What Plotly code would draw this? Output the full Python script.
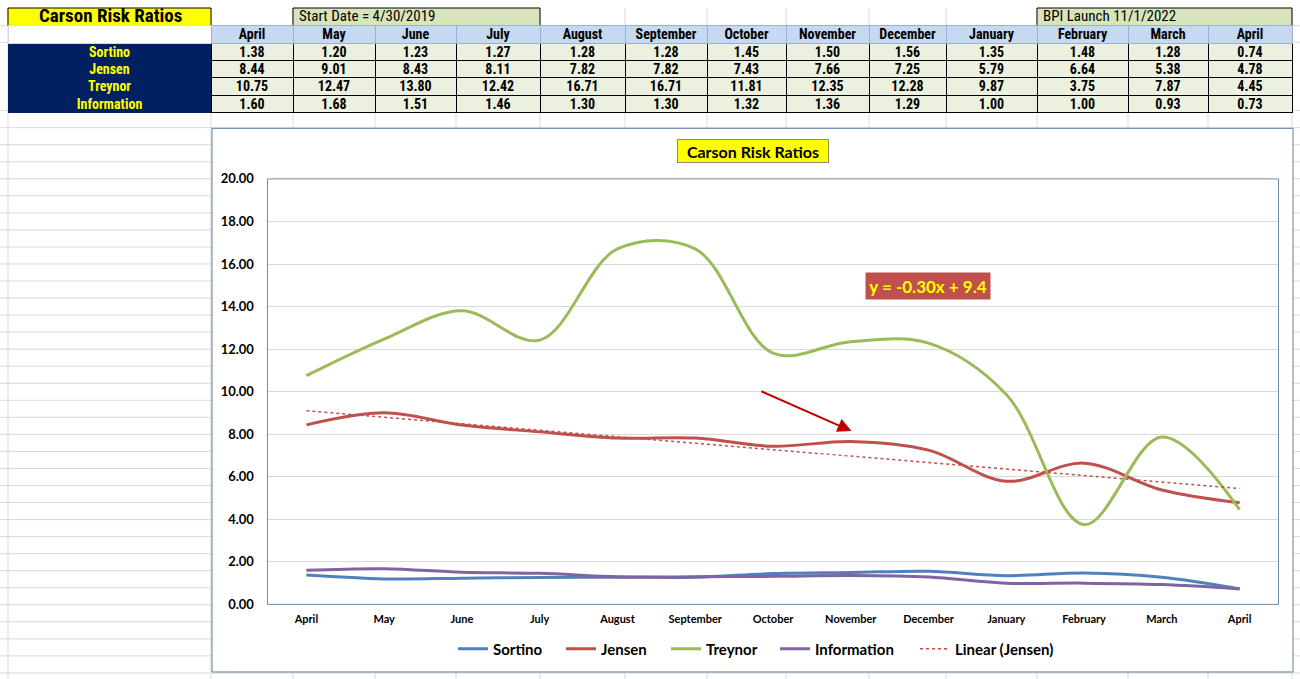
import numpy as np
import plotly.graph_objects as go

# ---------------- data ----------------
months = ["April", "May", "June", "July", "August", "September", "October",
          "November", "December", "January", "February", "March", "April"]
series_names = ["Sortino", "Jensen", "Treynor", "Information"]
sortino = [1.38, 1.20, 1.23, 1.27, 1.28, 1.28, 1.45, 1.50, 1.56, 1.35, 1.48, 1.28, 0.74]
jensen = [8.44, 9.01, 8.43, 8.11, 7.82, 7.82, 7.43, 7.66, 7.25, 5.79, 6.64, 5.38, 4.78]
treynor = [10.75, 12.47, 13.80, 12.42, 16.71, 16.71, 11.81, 12.35, 12.28, 9.87, 3.75, 7.87, 4.45]
information = [1.60, 1.68, 1.51, 1.46, 1.30, 1.30, 1.32, 1.36, 1.29, 1.00, 1.00, 0.93, 0.73]
sheet_title = "Carson Risk Ratios"
start_note = "Start Date = 4/30/2019"
bpi_note = "BPI Launch 11/1/2022"
chart_title = "Carson Risk Ratios"
equation_text = "y = -0.30x + 9.4"
trend_name = "Linear (Jensen)"

# ---------------- helpers (screen pixel -> paper) ----------------
W = 1300
S = 679.0 / 696.0          # vertical screen scale observed in the capture
OFF = 8                    # page top offset
H = 688

def px(x):
    return x / W

def fy(Y):
    return Y / S - OFF

def py(Y):
    return 1 - max(fy(Y), 0) / H

def vh(h):
    return h / S

NARROW = "Liberation Sans Narrow, Arial Narrow, Roboto Condensed, Liberation Sans, sans-serif"
CAL = "Lato, Open Sans, sans-serif"
colors = ["#4F81BD", "#C0504D", "#9BBB59", "#8064A2"]
all_series = [sortino, jensen, treynor, information]
xidx = list(range(len(months)))

fig = go.Figure()

# ---------------- table (cells + text layer) ----------------
col_widths = [203, 82, 82, 81, 84, 85, 82, 79, 83, 77, 91, 91, 80, 84]
ncol = len(col_widths)
cell_cols = [series_names] + [[f"{s[i]:.2f}" for s in all_series] for i in xidx]
blank_cols = [[""] * len(series_names) for _ in range(ncol)]
TOP = 25.5
SHIFT = 5
ROWH = vh(16.9)
fig.add_trace(go.Table(
    domain=dict(x=[px(8), px(1292)], y=[py(126), py(TOP)]),
    columnwidth=col_widths,
    header=dict(values=[""] * ncol, height=ROWH,
                fill=dict(color=["white"] + ["#C5D9F1"] * 13),
                line=dict(color=["#D9D9D9"] + ["#9DB1CF"] * 13, width=1)),
    cells=dict(values=blank_cols, height=ROWH,
               fill=dict(color=["#002060"] + ["#EBF1DE"] * 13),
               line=dict(color=["#002060"] + ["#000000"] * 13, width=1)),
))
fig.add_trace(go.Table(
    domain=dict(x=[px(8), px(1292)], y=[py(126), py(TOP - SHIFT)]),
    columnwidth=col_widths,
    header=dict(values=[""] + months, height=ROWH,
                fill=dict(color="rgba(0,0,0,0)"), line=dict(color="rgba(0,0,0,0)", width=0),
                font=dict(family=NARROW, size=14, color="black", weight="bold"),
                align="center"),
    cells=dict(values=cell_cols, height=ROWH,
               fill=dict(color="rgba(0,0,0,0)"), line=dict(color="rgba(0,0,0,0)", width=0),
               font=dict(family=NARROW, size=14, color=["#FFFF00"] + ["#000000"] * 13, weight="bold"),
               align="center"),
))

# ---------------- chart traces ----------------
legend_widths = [63, 60, 64, 95]
for name, vals, c, lw in zip(series_names, all_series, colors, legend_widths):
    fig.add_trace(go.Scatter(x=xidx, y=vals, name=name, mode="lines", legendwidth=lw,
                             line=dict(color=c, width=3, shape="spline", smoothing=1)))

slope, intercept = np.polyfit(np.arange(1, len(jensen) + 1), jensen, 1)
trend = [slope * (i + 1) + intercept for i in xidx]
fig.add_trace(go.Scatter(x=xidx, y=trend, name=trend_name, mode="lines", legendwidth=100,
                         line=dict(color="#C0504D", width=1.5, dash="dot")))

# ---------------- spreadsheet background ----------------
shapes = []
grid_c = "#D9D9D9"
col_lines = [8, 211, 293, 375, 456, 540, 625, 707, 786, 869, 946, 1037, 1128, 1208, 1292]
for xv in col_lines:
    shapes.append(dict(type="line", xref="paper", yref="paper", x0=px(xv), x1=px(xv), y0=0, y1=1,
                       line=dict(color=grid_c, width=1), layer="below"))
row_lines = [25.5, 42] + [110.3 + 17.02 * k for k in range(34)]
for yv in row_lines:
    if yv > 679:
        break
    shapes.append(dict(type="line", xref="paper", yref="paper", x0=0, x1=1, y0=py(yv), y1=py(yv),
                       line=dict(color=grid_c, width=1), layer="below"))
# chart box
shapes.append(dict(type="rect", xref="paper", yref="paper", x0=px(212), x1=px(1293), y0=py(671), y1=py(128),
                   fillcolor="white", line=dict(color="#5E7E9E", width=1), layer="below"))
# top row boxes
shapes.append(dict(type="rect", xref="paper", yref="paper", x0=px(8), x1=px(211), y0=py(25.5), y1=py(4),
                   fillcolor="#FFFF00", line=dict(color="#000000", width=1), layer="below"))
shapes.append(dict(type="rect", xref="paper", yref="paper", x0=px(293), x1=px(540), y0=py(25.5), y1=py(4),
                   fillcolor="#D8E4BC", line=dict(color="#000000", width=1), layer="below"))
shapes.append(dict(type="rect", xref="paper", yref="paper", x0=px(1037), x1=px(1292), y0=py(25.5), y1=py(4),
                   fillcolor="#D8E4BC", line=dict(color="#000000", width=1), layer="below"))
# plot area border
shapes.append(dict(type="rect", xref="x domain", yref="y domain", x0=0, x1=1, y0=0, y1=1,
                   line=dict(color="#6D8BAA", width=1), layer="above"))

annotations = [
    dict(text=sheet_title, xref="paper", yref="paper", x=px(110), y=py(15.5), showarrow=False,
         xanchor="center", yanchor="middle", font=dict(family=NARROW, size=19, color="black", weight="bold")),
    dict(text=start_note, xref="paper", yref="paper", x=px(297), y=py(15.5), showarrow=False,
         xanchor="left", yanchor="middle", font=dict(family=NARROW, size=15, color="black")),
    dict(text=bpi_note, xref="paper", yref="paper", x=px(1041), y=py(15.5), showarrow=False,
         xanchor="left", yanchor="middle", font=dict(family=NARROW, size=15, color="black")),
    dict(text=chart_title, xref="paper", yref="paper", x=px(753), y=py(151), showarrow=False,
         xanchor="center", yanchor="middle", width=148, height=20, borderpad=1,
         bgcolor="#FFFF00", bordercolor="#8C8C6C", borderwidth=1,
         font=dict(family=CAL, size=16, color="black", weight="bold")),
    dict(text=equation_text, xref="paper", yref="paper", x=px(928), y=py(285), showarrow=False,
         xanchor="center", yanchor="middle", width=120, height=22, borderpad=2,
         bgcolor="#C0504D", font=dict(family=CAL, size=17, color="#FFFF00", weight="bold")),
    dict(text="", xref="x", yref="y", x=7.01, y=8.15, axref="x", ayref="y", ax=5.83, ay=10.05,
         showarrow=True, arrowhead=2, arrowsize=1.4, arrowwidth=2, arrowcolor="#C00000", standoff=0),
]

fig.update_layout(
    width=W, height=H, autosize=False,
    margin=dict(l=0, r=0, t=0, b=0),
    paper_bgcolor="white", plot_bgcolor="rgba(0,0,0,0)",
    shapes=shapes, annotations=annotations,
    xaxis=dict(domain=[px(267.5), px(1278.5)], range=[-0.5, 12.5], tickvals=xidx, ticktext=months,
               showgrid=False, zeroline=False, showline=False, ticks="outside", ticklen=4,
               tickcolor="rgba(0,0,0,0)",
               tickfont=dict(family=CAL, size=11, color="black", weight="bold")),
    yaxis=dict(domain=[py(603.5), py(178.5)], range=[0, 20], dtick=2, tickformat=".2f",
               showgrid=True, gridcolor="#D9D9D9", gridwidth=1, zeroline=False, showline=False,
               ticks="outside", ticklen=10, tickcolor="rgba(0,0,0,0)",
               tickfont=dict(family=CAL, size=13, color="black", weight="bold")),
    legend=dict(orientation="h", x=px(453), xanchor="left", y=py(648), yanchor="middle",
                font=dict(family=CAL, size=15, color="black", weight="bold"),
                bgcolor="rgba(0,0,0,0)", borderwidth=0),
    showlegend=True,
)

fig.write_html("out.html")
